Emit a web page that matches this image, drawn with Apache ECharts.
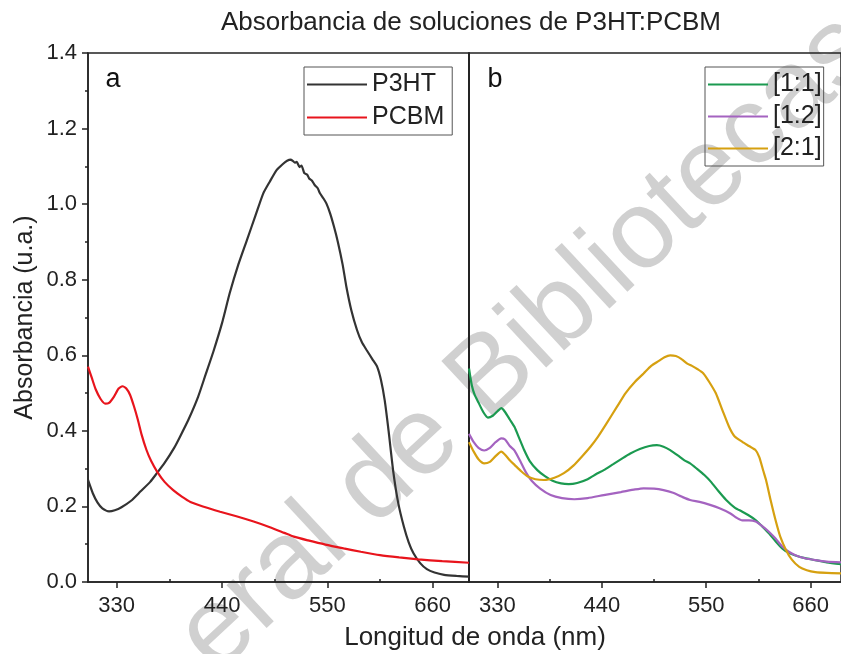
<!DOCTYPE html>
<html>
<head>
<meta charset="utf-8">
<script src="https://cdn.jsdelivr.net/npm/echarts@6/dist/echarts.min.js"></script>
<style>
html,body{margin:0;padding:0;background:#fff;}
#chart{width:841px;height:654px;}
</style>
</head>
<body>
<div id="chart"></div>
<script>
// ---- Data ----
const titleText = 'Absorbancia de soluciones de P3HT:PCBM';
const xName = 'Longitud de onda (nm)';
const yName = 'Absorbancia (u.a.)';
const xMajorTicks = [330, 440, 550, 660];
const xMinorTicks = [385, 495, 605];
const panelLabels = ['a', 'b'];
const watermarkText = 'eral de Bibliotecas';

// Panel a: P3HT
const wlP3HT = [300,305,310,315,322,328,335,345,355,365,372,380,390,396,405,415,423,431,440,448,457,466,475,483,490,497,503,508,512,516,518,521,523,526,529,531,534,537,540,542,546,549,553,557,561,566,570,575,581,586,591,597,602,606,610,614,619,624,630,635,640,647,654,662,672,685,698];
const absP3HT = [0.27,0.235,0.21,0.195,0.187,0.19,0.198,0.215,0.24,0.265,0.288,0.315,0.355,0.384,0.43,0.49,0.55,0.61,0.685,0.764,0.84,0.905,0.97,1.028,1.06,1.09,1.105,1.115,1.118,1.11,1.112,1.098,1.102,1.082,1.078,1.068,1.062,1.05,1.042,1.03,1.015,1.002,0.975,0.94,0.9,0.84,0.78,0.72,0.667,0.635,0.614,0.59,0.57,0.535,0.48,0.4,0.29,0.21,0.146,0.105,0.076,0.05,0.034,0.025,0.019,0.016,0.014];

// Panel a: PCBM
const wlPCBM = [300,304,308,313,318,322,327,332,336,340,344,348,352,356,361,366,372,380,389,398,407,420,438,455,473,490,505,515,530,548,567,585,605,625,645,670,698];
const absPCBM = [0.57,0.54,0.51,0.485,0.472,0.474,0.49,0.512,0.518,0.512,0.495,0.465,0.43,0.39,0.35,0.32,0.293,0.265,0.243,0.226,0.212,0.2,0.186,0.174,0.16,0.145,0.13,0.12,0.11,0.099,0.089,0.08,0.071,0.065,0.06,0.055,0.051];

// Panel b: [1:1]
const wl11 = [300,303,306,310,315,320,325,330,334,338,343,348,353,358,364,372,380,388,397,405,414,425,435,442,452,462,470,480,490,498,505,512,520,527,533,540,548,555,563,571,580,588,595,602,609,616,623,630,637,644,654,665,677,692];
const abs11 = [0.565,0.52,0.495,0.475,0.45,0.435,0.44,0.452,0.46,0.45,0.43,0.41,0.38,0.35,0.32,0.296,0.28,0.268,0.261,0.259,0.262,0.272,0.287,0.296,0.312,0.328,0.34,0.352,0.36,0.362,0.358,0.349,0.335,0.322,0.314,0.3,0.283,0.265,0.24,0.217,0.197,0.186,0.176,0.164,0.147,0.129,0.108,0.089,0.077,0.07,0.063,0.058,0.052,0.047];

// Panel b: [1:2]
const wl12 = [300,305,310,316,322,328,334,338,343,348,354,360,366,375,386,398,411,425,442,460,475,484,495,505,515,524,533,543,554,564,575,582,588,595,602,609,616,623,630,637,644,654,665,677,692];
const abs12 = [0.392,0.37,0.355,0.348,0.355,0.37,0.38,0.377,0.36,0.348,0.32,0.29,0.268,0.247,0.23,0.222,0.219,0.222,0.23,0.238,0.245,0.248,0.247,0.243,0.236,0.226,0.217,0.212,0.204,0.195,0.182,0.17,0.163,0.163,0.16,0.148,0.133,0.115,0.094,0.08,0.071,0.063,0.058,0.054,0.052];

// Panel b: [2:1]
const wl21 = [300,305,310,316,322,328,334,338,343,348,355,362,370,379,390,400,410,420,428,436,445,456,465,475,484,492,500,506,512,518,524,530,535,541,547,553,560,567,574,580,588,595,602,606,610,613,618,623,628,634,640,648,656,665,677,692];
const abs21 = [0.37,0.345,0.325,0.314,0.318,0.333,0.345,0.337,0.322,0.31,0.293,0.279,0.272,0.27,0.276,0.288,0.308,0.335,0.358,0.385,0.42,0.464,0.5,0.53,0.552,0.572,0.585,0.595,0.6,0.598,0.59,0.578,0.572,0.563,0.552,0.53,0.5,0.455,0.411,0.385,0.371,0.36,0.349,0.33,0.295,0.27,0.215,0.164,0.12,0.085,0.06,0.04,0.031,0.026,0.024,0.023];

const seriesNamesA = ['P3HT', 'PCBM'];
const seriesNamesB = ['[1:1]', '[1:2]', '[2:1]'];

// ---- Chart ----
const FONT = 'Liberation Sans, Arial, sans-serif';
const AX = '#222';
function pairs(x, y) { return x.map((v, i) => [v, y[i]]); }

function xAxes(grid, max) {
  return [
    {
      gridIndex: grid, type: 'value', min: 300, max: max,
      axisLine: { show: true, onZero: false, lineStyle: { color: AX, width: 1.5 } },
      axisTick: { show: true, inside: false, length: 6, customValues: xMajorTicks, lineStyle: { color: AX, width: 1.5 } },
      axisLabel: { show: true, customValues: xMajorTicks, fontSize: 22, color: AX, fontFamily: FONT, margin: 13 },
      splitLine: { show: false }
    },
    {
      gridIndex: grid, type: 'value', min: 300, max: max,
      axisLine: { show: false },
      axisTick: { show: true, inside: false, length: 3, customValues: xMinorTicks, lineStyle: { color: AX, width: 1.5 } },
      axisLabel: { show: false },
      splitLine: { show: false }
    }
  ];
}

function line(name, color, xi, yi, data) {
  return {
    name: name, type: 'line', xAxisIndex: xi, yAxisIndex: yi, data: data,
    showSymbol: false, symbol: 'none', smooth: 0.2,
    lineStyle: { color: color, width: 2.2 }, itemStyle: { color: color },
    z: 3
  };
}

const chart = echarts.init(document.getElementById('chart'), null, { renderer: 'canvas' });
const legendCommon = {
  orient: 'vertical', icon: 'rect', itemWidth: 60, itemHeight: 2, itemGap: 8,
  borderColor: '#555', borderWidth: 1, borderRadius: 0,
  textStyle: { fontSize: 25, color: AX, fontFamily: FONT, lineHeight: 25 },
  itemStyle: { borderWidth: 0 }
};

chart.setOption({
  backgroundColor: '#fff',
  animation: false,
  title: {
    text: titleText, left: 466, top: 5, textAlign: 'center',
    textStyle: { fontSize: 26, fontWeight: 'normal', color: AX, fontFamily: FONT }
  },
  legend: [
    Object.assign({}, legendCommon, { data: seriesNamesA, left: 304, top: 67, padding: [5, 8, 5, 3], itemTextGap: 7 }),
    Object.assign({}, legendCommon, { data: seriesNamesB, left: 705, top: 67, padding: [5, 2, 5, 3], itemTextGap: 8, itemGap: 7 })
  ],
  grid: [
    { left: 88, top: 53, width: 381, height: 529, show: true, borderColor: AX, borderWidth: 1.5, backgroundColor: 'transparent' },
    { left: 469, top: 53, width: 372, height: 529, show: true, borderColor: AX, borderWidth: 1.5, backgroundColor: 'transparent' }
  ],
  xAxis: [].concat(xAxes(0, 698), xAxes(1, 692)),
  yAxis: [
    {
      gridIndex: 0, type: 'value', min: 0, max: 1.4, interval: 0.2,
      name: yName, nameLocation: 'middle', nameGap: 50,
      nameTextStyle: { fontSize: 25, color: AX, fontFamily: FONT },
      axisLine: { show: true, lineStyle: { color: AX, width: 1.5 } },
      axisTick: { show: true, inside: false, length: 6, lineStyle: { color: AX, width: 1.5 } },
      minorTick: { show: true, splitNumber: 2, length: 3, lineStyle: { color: AX, width: 1.5 } },
      axisLabel: { fontSize: 22, color: AX, fontFamily: FONT, margin: 11, formatter: v => v.toFixed(1) },
      splitLine: { show: false }
    },
    {
      gridIndex: 1, type: 'value', min: 0, max: 1.4, interval: 0.2,
      axisLine: { show: true, lineStyle: { color: AX, width: 1.5 } },
      axisTick: { show: false }, axisLabel: { show: false }, splitLine: { show: false }
    }
  ],
  graphic: [
    {
      type: 'text', x: 195, y: 653, rotation: 43 * Math.PI / 180, z: -10, silent: true,
      style: { text: watermarkText, fontSize: 111, fontFamily: FONT, fill: 'rgba(150,150,150,0.45)', textAlign: 'left', textVerticalAlign: 'middle' }
    },
    { type: 'text', x: 113, y: 80, style: { text: panelLabels[0], fontSize: 27, fontFamily: FONT, fill: '#111', textAlign: 'center', textVerticalAlign: 'middle' } },
    { type: 'text', x: 495, y: 80, style: { text: panelLabels[1], fontSize: 27, fontFamily: FONT, fill: '#111', textAlign: 'center', textVerticalAlign: 'middle' } },
    { type: 'text', x: 475, y: 638, style: { text: xName, fontSize: 26, fontFamily: FONT, fill: AX, textAlign: 'center', textVerticalAlign: 'middle' } }
  ],
  series: [
    line(seriesNamesA[0], '#333333', 0, 0, pairs(wlP3HT, absP3HT)),
    line(seriesNamesA[1], '#e8141c', 0, 0, pairs(wlPCBM, absPCBM)),
    line(seriesNamesB[0], '#1b9a50', 2, 1, pairs(wl11, abs11)),
    line(seriesNamesB[1], '#a463c0', 2, 1, pairs(wl12, abs12)),
    line(seriesNamesB[2], '#d6a010', 2, 1, pairs(wl21, abs21))
  ]
});
</script>
</body>
</html>
